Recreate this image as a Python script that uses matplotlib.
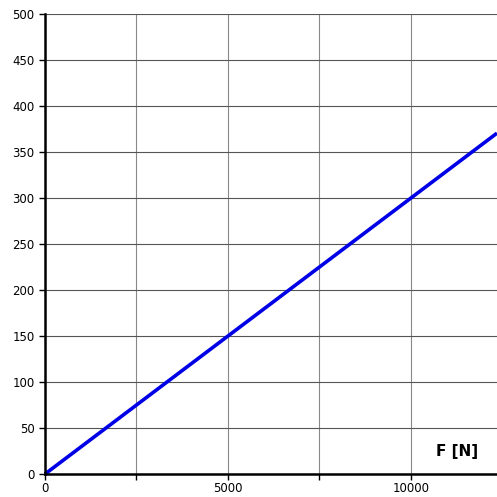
import matplotlib
matplotlib.use('Agg')
import matplotlib.pyplot as plt

force = [0, 5000, 10000, 12350]
values = [0, 150, 300, 370.5]
x_ticks = [0, 2500, 5000, 7500, 10000]
x_labels = ['0', '', '5000', '', '10000']
y_ticks = list(range(0, 501, 50))

fig = plt.figure(figsize=(4.97, 4.97), dpi=100)
ax = fig.add_axes([45 / 497, 23 / 497, 452 / 497, 460 / 497])

ax.plot(force, values, color='#0000e6', linewidth=2.6, solid_capstyle='butt', clip_on=False)

ax.set_xlim(0, 12350)
ax.set_ylim(0, 500)
ax.set_xticks(x_ticks)
ax.set_xticklabels(x_labels)
ax.set_yticks(y_ticks)
ax.tick_params(axis='both', direction='out', length=4, width=1, labelsize=8.5, color='black')
ax.tick_params(axis='x', pad=2)
ax.grid(True, axis='y', color='#555555', linewidth=0.8)
ax.grid(True, axis='x', color='#888888', linewidth=0.8)

for s in ['top', 'right']:
    ax.spines[s].set_visible(False)
for s in ['left', 'bottom']:
    ax.spines[s].set_linewidth(1.8)

ax.text(11250, 24, 'F [N]', fontsize=11, fontweight='bold', ha='center', va='center')

fig.savefig('out.png', dpi=100)
